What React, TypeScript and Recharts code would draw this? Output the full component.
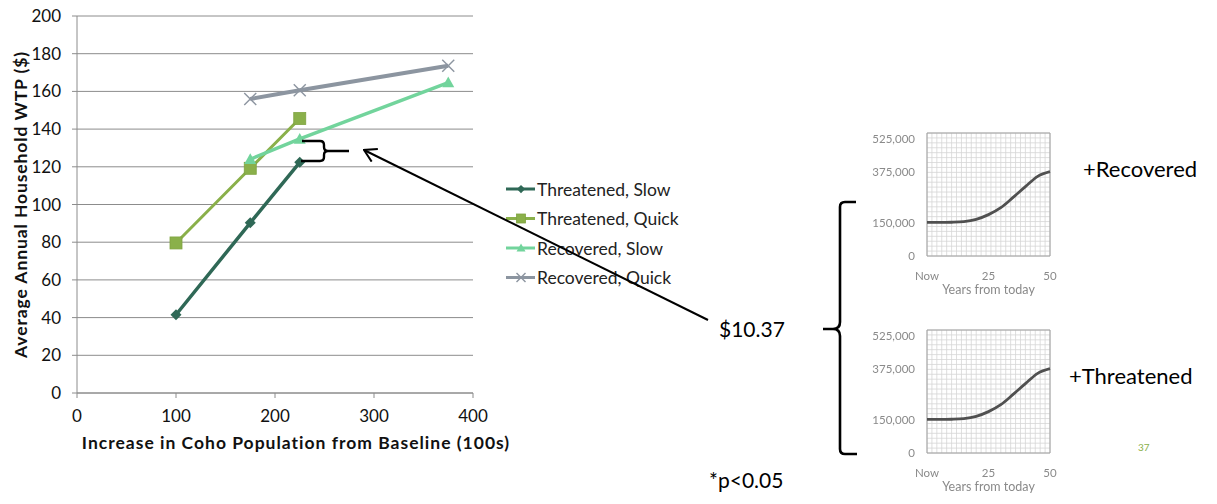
import React from 'react';
import { LineChart, Line, XAxis, YAxis, CartesianGrid, ReferenceArea } from 'recharts';

const FONT = 'Lato, "Open Sans", sans-serif';

// ---------- main chart data ----------
const xTicks = [0, 100, 200, 300, 400];
const yTicks = [0, 20, 40, 60, 80, 100, 120, 140, 160, 180, 200];

const threatenedSlow = [
  { x: 100, y: 41.5 },
  { x: 175, y: 90.3 },
  { x: 225, y: 122.4 },
];
const threatenedQuick = [
  { x: 100, y: 79.6 },
  { x: 175, y: 119.2 },
  { x: 225, y: 145.6 },
];
const recoveredSlow = [
  { x: 175, y: 124 },
  { x: 225, y: 134.8 },
  { x: 375, y: 164.7 },
];
const recoveredQuick = [
  { x: 175, y: 156 },
  { x: 225, y: 160.6 },
  { x: 375, y: 173.6 },
];

const seriesNames = ['Threatened, Slow', 'Threatened, Quick', 'Recovered, Slow', 'Recovered, Quick'];
const seriesColors = ['#2F6856', '#8AB04A', '#72D49C', '#8C95A0'];
const seriesWidths = [3.5, 3, 3.5, 4];
const seriesMarkers = ['diamond', 'square', 'triangle', 'cross'];
const seriesData = [threatenedSlow, threatenedQuick, recoveredSlow, recoveredQuick];

// ---------- mini chart data ----------
const miniYears = [0, 5, 10, 15, 20, 25, 30, 35, 40, 45, 50];
const miniPopulation = [150000, 150000, 151000, 154000, 164000, 185000, 216000, 262000, 310000, 356000, 377000];
const miniXDomain = [0, 50];
const miniYDomain = [0, 550000];
const miniXTicks = [0, 25, 50];
const miniXLabels = ['Now', '25', '50'];
const miniYTicks = [0, 150000, 375000, 525000];
const miniYLabels = ['0', '150,000', '375,000', '525,000'];
const miniGridX = Array.from({ length: 26 }, (_, i) => i * 2);
const miniGridY = Array.from({ length: 26 }, (_, i) => i * 22000);
const miniData = miniYears.map((yr, i) => ({ yr, v: miniPopulation[i] }));

function Marker({ kind, cx, cy, color, s = 1 }: any) {
  if (cx == null || cy == null) return null;
  if (kind === 'diamond') {
    const r = 5.5 * s;
    return <polygon points={`${cx},${cy - r} ${cx + r},${cy} ${cx},${cy + r} ${cx - r},${cy}`} fill={color} />;
  }
  if (kind === 'square') {
    const h = 6 * s;
    return <rect x={cx - h} y={cy - h} width={2 * h} height={2 * h} fill={color} stroke="#7FA441" strokeWidth={0.8} />;
  }
  if (kind === 'triangle') {
    const h = 6 * s;
    return <polygon points={`${cx},${cy - h} ${cx + h},${cy + h * 0.8} ${cx - h},${cy + h * 0.8}`} fill={color} />;
  }
  const h = 6 * s;
  return (
    <g stroke={color} strokeWidth={1.4}>
      <line x1={cx - h} y1={cy - h} x2={cx + h} y2={cy + h} />
      <line x1={cx - h} y1={cy + h} x2={cx + h} y2={cy - h} />
    </g>
  );
}

function gridX(p: any) {
  const o = p.offset;
  return miniGridX.map((v) => o.left + ((v - miniXDomain[0]) / (miniXDomain[1] - miniXDomain[0])) * o.width);
}
function gridY(p: any) {
  const o = p.offset;
  return miniGridY.map((v) => o.top + o.height * (1 - (v - miniYDomain[0]) / (miniYDomain[1] - miniYDomain[0])));
}

function MiniChart({ top }: { top: number }) {
  return (
    <div style={{ position: 'absolute', left: 870, top, filter: 'blur(0.6px)' }}>
      <LineChart width={195} height={175} data={miniData} margin={{ top: 8, right: 15, bottom: 0, left: 0 }}>
        <CartesianGrid
          stroke="#d6d6d6"
          strokeWidth={0.8}
          verticalCoordinatesGenerator={gridX}
          horizontalCoordinatesGenerator={gridY}
        />
        <XAxis
          type="number"
          dataKey="yr"
          domain={miniXDomain}
          ticks={miniXTicks}
          interval={0}
          height={44}
          axisLine={false}
          tickLine={false}
          tickMargin={10}
          tickFormatter={(v: number) => miniXLabels[miniXTicks.indexOf(v)]}
          tick={{ fill: '#8a8a8a', fontSize: 11.5, fontFamily: FONT }}
          label={{
            content: (p: any) => (
              <text x={p.viewBox.x + p.viewBox.width / 2} y={p.viewBox.y + 38} textAnchor="middle" fill="#8a8a8a" fontSize={12.5} fontFamily={FONT}>
                Years from today
              </text>
            ),
          }}
        />
        <YAxis
          type="number"
          domain={miniYDomain}
          ticks={miniYTicks}
          interval={0}
          width={57}
          axisLine={false}
          tickLine={false}
          tickMargin={6}
          tickFormatter={(v: number) => miniYLabels[miniYTicks.indexOf(v)]}
          tick={{ fill: '#8a8a8a', fontSize: 11.5, fontFamily: FONT }}
        />
        <ReferenceArea x1={0} x2={50} y1={0} y2={550000} fill="none" stroke="#a0a0a0" strokeWidth={1} />
        <Line type="monotone" dataKey="v" stroke="#505050" strokeWidth={2.8} dot={false} isAnimationActive={false} />
      </LineChart>
    </div>
  );
}

export default function App() {
  return (
    <div style={{ position: 'absolute', left: 0, top: 0, width: 1217, height: 504, background: '#fff', fontFamily: FONT, overflow: 'hidden' }}>
      <div style={{ position: 'absolute', left: 0, top: 0 }}>
        <LineChart width={540} height={460} margin={{ top: 16, right: 67, bottom: 0, left: 0 }}>
          <CartesianGrid vertical={false} stroke="#8c8c8c" strokeWidth={1} />
          <XAxis
            type="number"
            dataKey="x"
            domain={[0, 400]}
            ticks={xTicks}
            interval={0}
            height={67}
            axisLine={{ stroke: '#8c8c8c' }}
            tickLine={{ stroke: '#8c8c8c' }}
            tickSize={5}
            tickMargin={12}
            tick={{ fill: '#111', fontSize: 17, fontFamily: FONT }}
            label={{
              content: (p: any) => (
                <text x={p.viewBox.x + p.viewBox.width / 2 + 21} y={p.viewBox.y + 56} textAnchor="middle" fill="#111" fontSize={17.5} letterSpacing={1} fontWeight="bold" fontFamily={FONT}>
                  Increase in Coho Population from Baseline (100s)
                </text>
              ),
            }}
          />
          <YAxis
            type="number"
            domain={[0, 200]}
            ticks={yTicks}
            interval={0}
            width={77}
            axisLine={{ stroke: '#8c8c8c' }}
            tickLine={{ stroke: '#8c8c8c' }}
            tickSize={5}
            tickMargin={11}
            tick={{ fill: '#111', fontSize: 17, fontFamily: FONT }}
            label={{
              content: (p: any) => {
                const cx = 20;
                const cy = p.viewBox.y + p.viewBox.height / 2;
                return (
                  <text x={cx} y={cy} transform={`rotate(-90 ${cx} ${cy})`} textAnchor="middle" dominantBaseline="central" fill="#111" fontSize={17.5} letterSpacing={0.9} fontWeight="bold" fontFamily={FONT}>
                    Average Annual Household WTP ($)
                  </text>
                );
              },
            }}
          />
          {seriesData.map((d, i) => (
            <Line
              key={seriesNames[i]}
              data={d}
              dataKey="y"
              name={seriesNames[i]}
              type="linear"
              stroke={seriesColors[i]}
              strokeWidth={seriesWidths[i]}
              isAnimationActive={false}
              dot={(p: any) => <Marker key={`${i}-${p.index}`} kind={seriesMarkers[i]} cx={p.cx} cy={p.cy} color={seriesColors[i]} />}
              activeDot={false}
            />
          ))}
        </LineChart>
      </div>

      {/* legend */}
      <svg style={{ position: 'absolute', left: 500, top: 174 }} width={220} height={120}>
        {seriesNames.map((n, i) => {
          const cy = 15 + i * 29.5;
          return (
            <g key={n}>
              <line x1={6} y1={cy} x2={35} y2={cy} stroke={seriesColors[i]} strokeWidth={3} />
              <Marker kind={seriesMarkers[i]} cx={21} cy={cy} color={seriesColors[i]} s={0.75} />
              <text x={37} y={cy} dominantBaseline="central" fontSize={17.5} fill="#222" fontFamily={FONT}>
                {n}
              </text>
            </g>
          );
        })}
      </svg>

      <MiniChart top={125} />
      <MiniChart top={322} />

      {/* annotations */}
      <svg style={{ position: 'absolute', left: 0, top: 0, pointerEvents: 'none' }} width={1217} height={504}>
        <defs>
          <marker id="arrowHead" markerWidth={16} markerHeight={16} refX={1} refY={8} orient="auto" markerUnits="userSpaceOnUse">
            <path d="M13,1 L1,8 L13,15" fill="none" stroke="#000" strokeWidth={2} />
          </marker>
        </defs>
        <path
          d="M302,141 L320,141 Q324,141 324,145 L324,147 Q324,151 328,151 L349,151 M328,151 Q324,151 324,155 L324,157 Q324,161 320,161 L301,161"
          fill="none"
          stroke="#000"
          strokeWidth={2.4}
        />
        <line x1={364} y1={150} x2={708} y2={320} stroke="#000" strokeWidth={2} markerStart="url(#arrowHead)" />
        <path
          d="M856,202 L845,202 Q840,202 840,207 L840,322 Q840,329 833,329 L823,329 M833,329 Q840,329 840,336 L840,449 Q840,454 845,454 L857,454"
          fill="none"
          stroke="#000"
          strokeWidth={2.6}
        />
        <text x={719} y={337} fontSize={21} fill="#000" fontFamily={FONT}>$10.37</text>
        <text x={1083} y={177} fontSize={22} fill="#000" fontFamily={FONT}>+Recovered</text>
        <text x={1069} y={384} fontSize={22} fill="#000" fontFamily={FONT}>+Threatened</text>
        <text x={1138} y={451} fontSize={10} fill="#8AB04A" fontFamily={FONT}>37</text>
        <text x={709} y={488} fontSize={21} fill="#000" fontFamily={FONT}>*p&lt;0.05</text>
      </svg>
    </div>
  );
}
